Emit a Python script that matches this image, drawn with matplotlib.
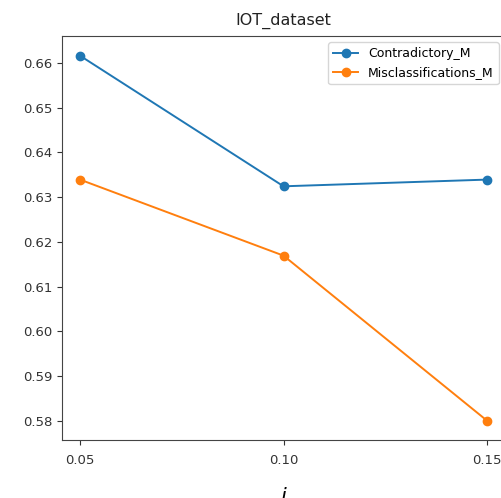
import matplotlib
matplotlib.use("Agg")
import matplotlib.pyplot as plt

x = [0.05, 0.10, 0.15]
contradictory = [0.6616, 0.6324, 0.6339]
misclass = [0.6339, 0.6169, 0.5800]
labels = ["Contradictory_M", "Misclassifications_M"]
xticks = [0.05, 0.10, 0.15]
yticks = [0.58, 0.59, 0.60, 0.61, 0.62, 0.63, 0.64, 0.65, 0.66]

fig = plt.figure(figsize=(5.02, 4.98), dpi=100)
ax = fig.add_axes([62/502, 1-439.5/498, 443/502, 403.5/498])
ax.plot(x, contradictory, marker="o", markersize=6, lw=1.4, color="#1f77b4", label=labels[0])
ax.plot(x, misclass, marker="o", markersize=6, lw=1.4, color="#ff7f0e", label=labels[1])
ax.set_xlim(0.04558, 0.1544)
ax.set_ylim(0.5758, 0.6660)
ax.set_xticks(xticks)
ax.set_xticklabels(["%.2f" % v for v in xticks])
ax.set_yticks(yticks)
ax.set_yticklabels(["%.2f" % v for v in yticks])
ax.tick_params(labelsize=9.5, colors="#333333")
ax.tick_params(axis="x", pad=7)
for s in ax.spines.values():
    s.set_color("#444444")
ax.set_title("IOT_dataset", fontsize=11.5, pad=8, color="#222222")
ax.set_xlabel("$i$", fontsize=15, labelpad=14)
ax.legend(loc="upper right", fontsize=9)
fig.savefig("out.png", dpi=100)
